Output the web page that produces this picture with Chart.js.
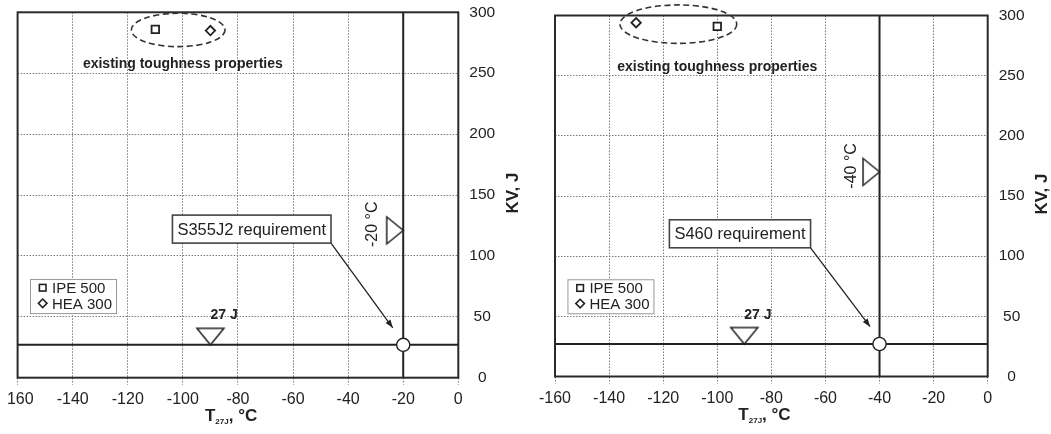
<!DOCTYPE html>
<html>
<head>
<meta charset="utf-8">
<script src="https://cdn.jsdelivr.net/npm/chart.js@4.4.0/dist/chart.umd.min.js"></script>
<style>
  html, body { margin: 0; padding: 0; background: #fff; }
  body { width: 1051px; height: 434px; position: relative; overflow: hidden; }
  #wrapL { position: absolute; left: 7px; top: 0; width: 513px; height: 434px; overflow: hidden; }
  #chartL { position: absolute; left: -20px; top: 0; }
  #chartR { position: absolute; left: 520px; top: 0; }
</style>
</head>
<body>
<div id="wrapL"><canvas id="chartL" width="533" height="434"></canvas></div>
<canvas id="chartR" width="531" height="434"></canvas>
<script>
// axes
const tTicks = [-160, -140, -120, -100, -80, -60, -40, -20, 0];
const kvTicks = [0, 50, 100, 150, 200, 250, 300];

// one panel per steel grade
const grades = ['S355J2', 'S460'];
const tRequired = [-20, -40];      // test temperature of the grade, °C
const kvRequired = 27;             // J
const kvTempMark = [121, 170];     // height of the temperature marker, J
const tKvMark = -90;               // where the 27 J marker sits, °C

// existing toughness, per panel
const sections = ['IPE 500', 'HEA 300'];
const ipeT = [-110, -100];
const ipeKV = [286, 291];
const heaT = [-90, -130];
const heaKV = [285, 294];

const FONT = "'Liberation Sans', Arial, sans-serif";
const INK = '#222';
const GRID = '#7a7a7a';

Chart.defaults.font.family = FONT;
Chart.defaults.color = INK;

// canvas geometry and callout placement (data units) for each panel
const panelLayout = [
  { canvas: 'chartL', pad: { left: 30.6, top: 12.3 }, xAxisH: 56.3, yAxisW: 61.7,
    ring: { t: -101.7, kv: 285.5, rt: 17, rkv: 13.7 }, caption: { t: -100, kv: 257.5 },
    legend: { t: -155.5, kv: 81 }, callout: { t: -75, kv: 122, tipT: -23.8, tipKV: 41 },
    tempLabel: { t: -31, kv: 126 }, kvLabel: { t: -85, kv: 51 } },
  { canvas: 'chartR', pad: { left: 35, top: 15.5 }, xAxisH: 57.5, yAxisW: 63.3,
    ring: { t: -114.4, kv: 292.8, rt: 21.6, rkv: 16 }, caption: { t: -100, kv: 257 },
    legend: { t: -155.4, kv: 80.8 }, callout: { t: -91.6, kv: 118.6, tipT: -43.5, tipKV: 41.4 },
    tempLabel: { t: -50.2, kv: 175 }, kvLabel: { t: -85, kv: 51 } }
];

// flat triangle markers whose tip falls on the image centre
function triangleMarker(dir) {
  const w = 27, h = 16.5;
  const c = document.createElement('canvas');
  const g = c.getContext('2d');
  if (dir === 'down') {
    c.width = w + 4; c.height = 2 * h + 4;
    g.beginPath();
    g.moveTo(2, 2); g.lineTo(w + 2, 2); g.lineTo(w / 2 + 2, h + 2);
  } else {
    c.width = 2 * h + 4; c.height = w + 4;
    g.beginPath();
    g.moveTo(2, 2); g.lineTo(2, w + 2); g.lineTo(h + 2, w / 2 + 2);
  }
  g.closePath();
  g.fillStyle = '#fff';
  g.fill();
  g.strokeStyle = '#222';
  g.lineWidth = 1.5;
  g.stroke();
  return c;
}
const downMark = triangleMarker('down');
const rightMark = triangleMarker('right');

function drawSquare(ctx, x, y, s) {
  ctx.fillStyle = '#fff';
  ctx.fillRect(x - s, y - s, 2 * s, 2 * s);
  ctx.strokeRect(x - s, y - s, 2 * s, 2 * s);
}
function drawDiamond(ctx, x, y, r) {
  ctx.beginPath();
  ctx.moveTo(x, y - r); ctx.lineTo(x + r, y); ctx.lineTo(x, y + r); ctx.lineTo(x - r, y);
  ctx.closePath();
  ctx.fillStyle = '#fff';
  ctx.fill();
  ctx.stroke();
}

// keep label overhang from pushing the plot area around
function fixSize(s, w, h) {
  if (w !== null) s.width = w;
  if (h !== null) s.height = h;
  s.paddingTop = 0; s.paddingBottom = 0; s.paddingLeft = 0; s.paddingRight = 0;
}

const notes = {
  id: 'notes',
  afterDatasetsDraw(chart, args, opts) {
    const ctx = chart.ctx, a = chart.chartArea;
    const sx = chart.scales.x, sy = chart.scales.y;
    const L = opts.layout, i = opts.panel;
    const X = t => sx.getPixelForValue(t), Y = kv => sy.getPixelForValue(kv);
    ctx.save();

    // plot frame
    ctx.setLineDash([]);
    ctx.strokeStyle = '#2a2a2a';
    ctx.lineWidth = 2;
    ctx.strokeRect(a.left, a.top, a.right - a.left, a.bottom - a.top);

    // dashed ring round the existing values
    ctx.strokeStyle = '#333';
    ctx.lineWidth = 1.6;
    ctx.setLineDash([6, 3.5]);
    ctx.beginPath();
    ctx.ellipse(X(L.ring.t), Y(L.ring.kv), X(L.ring.t + L.ring.rt) - X(L.ring.t),
      Y(L.ring.kv) - Y(L.ring.kv + L.ring.rkv), 0, 0, Math.PI * 2);
    ctx.stroke();
    ctx.setLineDash([]);

    ctx.fillStyle = INK;
    ctx.textAlign = 'center';
    ctx.textBaseline = 'middle';
    ctx.font = 'bold 14px ' + FONT;
    ctx.fillText('existing toughness properties', X(L.caption.t), Y(L.caption.kv));

    // 27 J marker label
    ctx.fillText(kvRequired + ' J', X(L.kvLabel.t), Y(L.kvLabel.kv));

    // temperature marker label, rotated
    ctx.save();
    ctx.translate(X(L.tempLabel.t), Y(L.tempLabel.kv));
    ctx.rotate(-Math.PI / 2);
    ctx.font = '16px ' + FONT;
    ctx.fillText(tRequired[i] + ' °C', 0, 0);
    ctx.restore();

    // requirement callout with arrow
    const txt = grades[i] + ' requirement';
    ctx.font = '16.5px ' + FONT;
    const bw = ctx.measureText(txt).width + 10, bh = 28;
    const bx = X(L.callout.t) - bw / 2, by = Y(L.callout.kv) - bh / 2;
    const tx = X(L.callout.tipT), ty = Y(L.callout.tipKV);
    ctx.strokeStyle = '#222';
    ctx.lineWidth = 1.3;
    ctx.beginPath();
    ctx.moveTo(bx + bw, by + bh);
    ctx.lineTo(tx, ty);
    ctx.stroke();
    const ang = Math.atan2(ty - (by + bh), tx - (bx + bw));
    ctx.beginPath();
    ctx.moveTo(tx, ty);
    ctx.lineTo(tx - 8 * Math.cos(ang) + 3 * Math.sin(ang), ty - 8 * Math.sin(ang) - 3 * Math.cos(ang));
    ctx.lineTo(tx - 8 * Math.cos(ang) - 3 * Math.sin(ang), ty - 8 * Math.sin(ang) + 3 * Math.cos(ang));
    ctx.closePath();
    ctx.fillStyle = '#222';
    ctx.fill();
    ctx.fillStyle = '#fff';
    ctx.fillRect(bx, by, bw, bh);
    ctx.strokeStyle = '#444';
    ctx.lineWidth = 1.6;
    ctx.strokeRect(bx, by, bw, bh);
    ctx.fillStyle = INK;
    ctx.fillText(txt, bx + bw / 2, by + bh / 2 + 1);

    // legend
    const lx = X(L.legend.t), ly = Y(L.legend.kv);
    ctx.fillStyle = '#fff';
    ctx.fillRect(lx, ly, 86, 34);
    ctx.strokeStyle = '#999';
    ctx.lineWidth = 1;
    ctx.strokeRect(lx + 0.5, ly + 0.5, 86, 34);
    ctx.strokeStyle = '#222';
    ctx.lineWidth = 1.6;
    drawSquare(ctx, lx + 12.7, ly + 8.7, 3.3);
    drawDiamond(ctx, lx + 12.7, ly + 24.3, 4.3);
    ctx.fillStyle = INK;
    ctx.textAlign = 'left';
    ctx.font = '15px ' + FONT;
    ctx.fillText(sections[0], lx + 22, ly + 9.5);
    ctx.fillText(sections[1], lx + 22, ly + 25.5);

    ctx.restore();
  },
  afterDraw(chart) {
    const ctx = chart.ctx, a = chart.chartArea;
    ctx.save();
    ctx.fillStyle = INK;
    // KV, J reads upwards on the right
    ctx.save();
    ctx.translate(a.right + 55, (a.top + a.bottom) / 2 - 2);
    ctx.rotate(-Math.PI / 2);
    ctx.textAlign = 'center';
    ctx.textBaseline = 'middle';
    ctx.font = 'bold 17px ' + FONT;
    ctx.fillText('KV, J', 0, 0);
    ctx.restore();
    // T27J, °C with subscript
    let x = (a.left + a.right) / 2 - 33;
    const y = a.bottom + 43;
    ctx.textAlign = 'left';
    ctx.textBaseline = 'alphabetic';
    ctx.font = 'bold 17px ' + FONT;
    ctx.fillText('T', x, y);
    x += ctx.measureText('T').width;
    ctx.font = 'bold 8px ' + FONT;
    ctx.fillText('27J', x, y + 3);
    x += ctx.measureText('27J').width;
    ctx.font = 'bold 17px ' + FONT;
    ctx.fillText(', °C', x, y);
    ctx.restore();
  }
};

function buildPanel(i) {
  const L = panelLayout[i];
  return new Chart(document.getElementById(L.canvas), {
    type: 'scatter',
    data: {
      datasets: [
        { label: sections[0], data: [{ x: ipeT[i], y: ipeKV[i] }],
          pointStyle: 'rect', pointRadius: 5.3, borderColor: '#222', backgroundColor: '#fff', borderWidth: 1.8 },
        { label: sections[1], data: [{ x: heaT[i], y: heaKV[i] }],
          pointStyle: 'rectRot', pointRadius: 4.7, borderColor: '#222', backgroundColor: '#fff', borderWidth: 1.8 },
        { label: 'requirement', data: [{ x: tRequired[i], y: kvRequired }],
          pointStyle: 'circle', pointRadius: 6.6, borderColor: '#222', backgroundColor: '#fff', borderWidth: 1.4 },
        { label: 'kv mark', data: [{ x: tKvMark, y: kvRequired }], pointStyle: downMark },
        { label: 'temp mark', data: [{ x: tRequired[i], y: kvTempMark[i] }], pointStyle: rightMark },
        { label: 'kv line', type: 'line', data: [{ x: tTicks[0], y: kvRequired }, { x: tTicks[tTicks.length - 1], y: kvRequired }],
          borderColor: '#222', borderWidth: 2, pointRadius: 0, fill: false },
        { label: 'temp line', type: 'line', data: [{ x: tRequired[i], y: kvTicks[0] }, { x: tRequired[i], y: kvTicks[kvTicks.length - 1] }],
          borderColor: '#222', borderWidth: 2, pointRadius: 0, fill: false }
      ]
    },
    options: {
      responsive: false,
      animation: false,
      events: [],
      layout: { padding: { left: L.pad.left, top: L.pad.top, right: 0, bottom: 0 } },
      plugins: {
        legend: { display: false },
        tooltip: { enabled: false },
        notes: { layout: L, panel: i }
      },
      scales: {
        x: {
          type: 'linear', min: tTicks[0], max: tTicks[tTicks.length - 1],
          afterBuildTicks: s => { s.ticks = tTicks.map(v => ({ value: v })); },
          afterFit: s => fixSize(s, null, L.xAxisH),
          grid: { color: GRID, lineWidth: 1, drawTicks: true, tickLength: 7, tickColor: GRID,
                  borderDash: [1.5, 1.5], tickBorderDash: [1.5, 1.5] },
          border: { display: false, dash: [1.5, 1.5] },
          ticks: { color: INK, font: { size: 16 }, padding: 5, maxRotation: 0, autoSkip: false }
        },
        y: {
          type: 'linear', position: 'right', min: kvTicks[0], max: kvTicks[kvTicks.length - 1],
          afterBuildTicks: s => { s.ticks = kvTicks.map(v => ({ value: v })); },
          afterFit: s => fixSize(s, L.yAxisW, null),
          grid: { color: GRID, lineWidth: 1, drawTicks: false, borderDash: [1.5, 1.5] },
          border: { display: false, dash: [1.5, 1.5] },
          ticks: { color: INK, font: { size: 15.5 }, padding: 11, crossAlign: 'center' }
        }
      }
    },
    plugins: [notes]
  });
}

buildPanel(0);
buildPanel(1);
</script>
</body>
</html>
